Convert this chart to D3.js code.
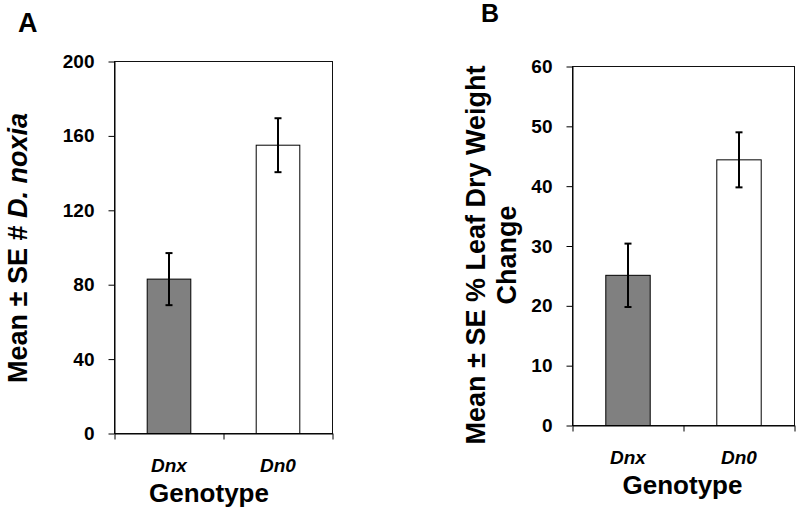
<!DOCTYPE html>
<html>
<head>
<meta charset="utf-8">
<script src="https://cdn.jsdelivr.net/npm/d3@7"></script>
<style>
  html, body { margin: 0; padding: 0; background: #fff; }
  svg { display: block; font-family: "Liberation Sans", Arial, sans-serif; }
</style>
</head>
<body>
<svg id="chart" width="800" height="511"></svg>
<script>
// ---- data ----
const categories = ["Dnx", "Dn0"];
const barColors = ["#808080", "#ffffff"];

const aphidMean = [83, 155];
const aphidSE = [14, 14.5];
const aphidTicks = [0, 40, 80, 120, 160, 200];

const leafMean = [25.1, 44.4];
const leafSE = [5.3, 4.6];
const leafTicks = [0, 10, 20, 30, 40, 50, 60];

const svg = d3.select("#chart");

function drawPanel(p) {
  const g = svg.append("g");
  const x = d3.scaleBand().domain(categories).range([p.left, p.right])
    .paddingInner(0.6).paddingOuter(0.3).align(0.5);
  const xEdge = d3.scaleLinear().domain([0, categories.length]).range([p.left, p.right]);
  const y = d3.scaleLinear().domain([p.ticks[0], p.ticks[p.ticks.length - 1]]).range([p.bottom, p.top]);

  // frame
  g.append("rect")
    .attr("x", p.left).attr("y", p.top)
    .attr("width", p.right - p.left).attr("height", p.bottom - p.top)
    .attr("fill", "none").attr("stroke", "#111").attr("stroke-width", 1);

  // bars
  g.selectAll("rect.bar").data(categories).enter().append("rect")
    .attr("class", "bar")
    .attr("x", d => x(d))
    .attr("width", x.bandwidth())
    .attr("y", (d, i) => y(p.mean[i]))
    .attr("height", (d, i) => y(0) - y(p.mean[i]))
    .attr("fill", (d, i) => barColors[i])
    .attr("stroke", "#000").attr("stroke-width", 1);

  // error bars
  const eb = g.selectAll("g.err").data(categories).enter().append("g").attr("class", "err");
  eb.append("line")
    .attr("x1", d => x(d) + x.bandwidth() / 2).attr("x2", d => x(d) + x.bandwidth() / 2)
    .attr("y1", (d, i) => y(p.mean[i] + p.se[i])).attr("y2", (d, i) => y(p.mean[i] - p.se[i]))
    .attr("stroke", "#000").attr("stroke-width", 2);
  [1, -1].forEach(s => {
    eb.append("line")
      .attr("x1", d => x(d) + x.bandwidth() / 2 - 3.5).attr("x2", d => x(d) + x.bandwidth() / 2 + 3.5)
      .attr("y1", (d, i) => y(p.mean[i] + s * p.se[i])).attr("y2", (d, i) => y(p.mean[i] + s * p.se[i]))
      .attr("stroke", "#000").attr("stroke-width", 2);
  });

  // y axis
  const ya = g.append("g").attr("transform", `translate(${p.left},0)`)
    .call(d3.axisLeft(y).tickValues(p.ticks).tickSize(6).tickSizeOuter(0).tickPadding(14).tickFormat(d3.format("d")));
  ya.attr("font-size", null).attr("font-family", null);
  ya.selectAll("text").attr("font-size", 19).attr("font-weight", "bold").attr("fill", "#000");
  ya.selectAll("line, path").attr("stroke", "#000");

  // x axis: boundary ticks
  const xe = g.append("g").attr("transform", `translate(0,${p.bottom})`)
    .call(d3.axisBottom(xEdge).tickValues(d3.range(categories.length + 1)).tickSize(6).tickSizeOuter(0).tickFormat(""));
  xe.selectAll("line, path").attr("stroke", "#000");

  // x axis: category labels
  const xl = g.append("g").attr("transform", `translate(0,${p.bottom})`)
    .call(d3.axisBottom(x).tickSize(0).tickPadding(24));
  xl.attr("font-size", null).attr("font-family", null);
  xl.select(".domain").remove();
  xl.selectAll("text").attr("font-size", 19).attr("font-weight", "bold").attr("font-style", "italic")
    .attr("fill", "#000").attr("dy", "0").attr("y", 38);

  // x title
  g.append("text").attr("x", p.xTitleX).attr("y", p.bottom + 68)
    .attr("text-anchor", "middle").attr("font-size", 26).attr("font-weight", "bold")
    .text("Genotype");

  // y title
  p.yTitle.forEach((line, i) => {
    g.append("text")
      .attr("transform", `translate(${p.yTitleX + i * 31},${p.yTitleY}) rotate(-90)`)
      .attr("text-anchor", "middle").attr("font-size", 27).attr("font-weight", "bold")
      .html(line);
  });

  // panel letter
  g.append("text").attr("x", p.letterX).attr("y", p.letterY)
    .attr("font-size", p.letterSize).attr("font-weight", "bold").text(p.letter);
}

drawPanel({
  left: 114.5, right: 332.5, top: 61.5, bottom: 433.5,
  ticks: aphidTicks, mean: aphidMean, se: aphidSE,
  xTitleX: 209,
  yTitle: ['Mean ± SE # <tspan font-style="italic">D. noxia</tspan>'],
  yTitleX: 27, yTitleY: 248,
  letter: "A", letterX: 18, letterY: 32, letterSize: 27
});

drawPanel({
  left: 572.5, right: 794.5, top: 66.5, bottom: 425.5,
  ticks: leafTicks, mean: leafMean, se: leafSE,
  xTitleX: 682.5,
  yTitle: ["Mean ± SE % Leaf Dry Weight", "Change"],
  yTitleX: 485, yTitleY: 255,
  letter: "B", letterX: 481, letterY: 22, letterSize: 25
});
</script>
</body>
</html>
